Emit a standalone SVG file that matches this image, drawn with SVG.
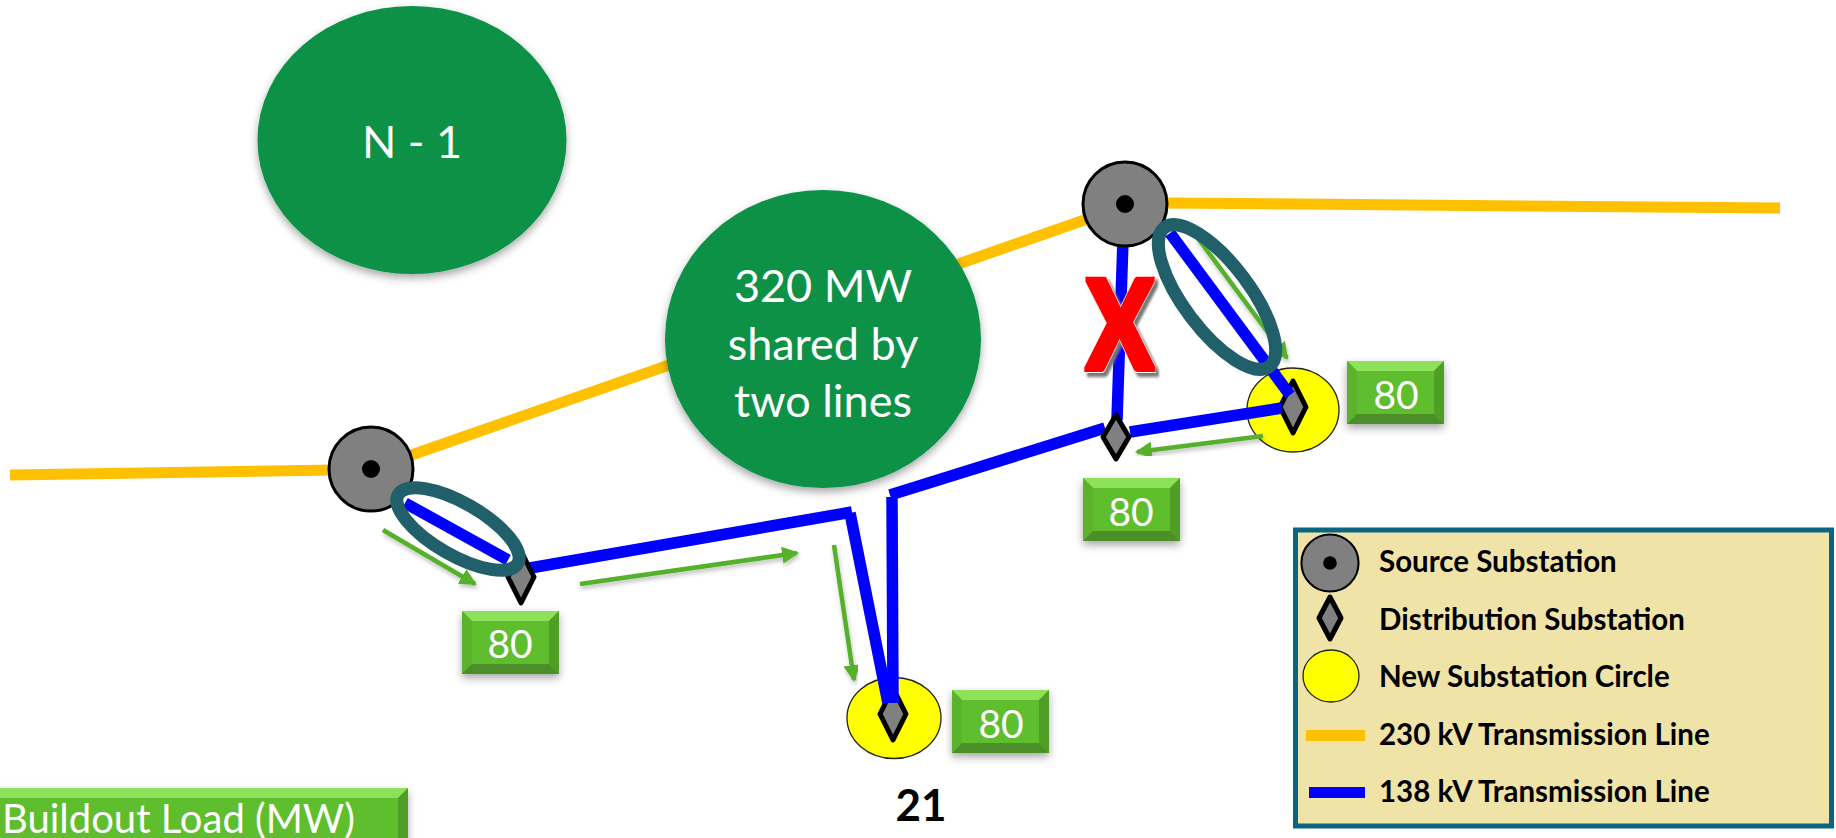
<svg xmlns="http://www.w3.org/2000/svg" xmlns:xlink="http://www.w3.org/1999/xlink" width="1836" height="838" viewBox="0 0 1836 838">
<style>
text{font-family:"Lato","Carlito","Liberation Sans",sans-serif}
.orange{stroke:#ffc000;stroke-width:11;fill:none}
.blue{stroke:#0000ff;stroke-width:11.500;fill:none}
.flow{stroke:#54b02a;stroke-width:4.500;fill:none;marker-end:url(#arrow);filter:url(#soft)}
.big{fill:#079147;filter:url(#shadow)}
.src{fill:#808080;stroke:#000;stroke-width:3}
.dia{fill:#808080;stroke:#000;stroke-width:5;stroke-linejoin:round}
.yel{fill:#ffff00;stroke:#222;stroke-width:1.300}
.ring{fill:none;stroke:#215f6a;stroke-width:13}
.w{fill:#fff;font-size:45px;text-anchor:middle}
.n{fill:#fff;font-size:39px;text-anchor:middle}
.leg{fill:#000;font-size:29.500px;font-weight:700}
</style>
<defs>
<filter id="shadow" x="-15%" y="-15%" width="130%" height="135%"><feDropShadow dx="0" dy="4" stdDeviation="4" flood-color="#000" flood-opacity="0.35"/></filter>
<filter id="soft" x="-20%" y="-20%" width="140%" height="140%"><feDropShadow dx="1" dy="3" stdDeviation="2" flood-color="#000" flood-opacity="0.25"/></filter>
<filter id="xfx" x="-20%" y="-20%" width="140%" height="140%">
<feMorphology in="SourceAlpha" operator="dilate" radius="3" result="outer"/>
<feFlood flood-color="#fff"/><feComposite in2="outer" operator="in" result="white"/>
<feOffset in="outer" dx="4" dy="4" result="off"/><feGaussianBlur in="off" stdDeviation="1.500" result="blur"/>
<feFlood flood-color="#777"/><feComposite in2="blur" operator="in" result="grey"/>
<feMorphology in="SourceGraphic" operator="dilate" radius="2" result="red"/>
<feMerge><feMergeNode in="grey"/><feMergeNode in="white"/><feMergeNode in="red"/></feMerge>
</filter>
<marker id="arrow" viewBox="0 0 16 16" refX="14" refY="8" markerUnits="userSpaceOnUse" markerWidth="17" markerHeight="17" orient="auto"><path d="M0 0L16 8L0 16Z" fill="#54b02a"/></marker>
<symbol id="box" width="97" height="63" overflow="visible">
<rect width="97" height="63" fill="#5fbe2d" filter="url(#shadow)"/>
<polygon points="0,0 97,0 87,10 10,10" fill="#8de25a"/>
<polygon points="0,0 10,10 10,53 0,63" fill="#5ab32b"/>
<polygon points="97,0 87,10 87,53 97,63" fill="#4f9f26"/>
<polygon points="0,63 10,53 87,53 97,63" fill="#4c8f28"/>
</symbol>
<g id="srcmark"><circle r="42" class="src"/><circle r="9" fill="#000"/></g>
</defs>
<rect width="1836" height="838" fill="#fff"/>
<g id="orange-lines">
<path class="orange" d="M10 475L335 470M400 459L1090 218M1165 203L1780 208"/>
</g>
<g id="n1"><ellipse class="big" cx="412" cy="140" rx="154.500" ry="134"/><text class="w" x="412" y="158">N - 1</text></g>
<g id="load-note"><ellipse class="big" cx="823" cy="339" rx="158" ry="149"/>
<text class="w" x="823" y="302">320 MW</text><text class="w" x="823" y="360">shared by</text><text class="w" x="823" y="417">two lines</text></g>
<g id="new-sub-east"><ellipse class="yel" cx="1293" cy="410" rx="46" ry="42"/><path class="dia" d="M1293 381L1306 407L1293 433L1280 407Z"/></g>
<g id="new-sub-south"><ellipse class="yel" cx="894" cy="718" rx="47" ry="40.500"/><path class="dia" d="M893 688L906 714L893 740L880 714Z"/></g>
<g id="connectors">
<path class="blue" d="M405 503L508 560"/>
<path class="blue" d="M530 568L852 512"/>
<path class="blue" d="M850 513L888 703"/>
<path class="blue" d="M892 497L893 703"/>
<path class="blue" d="M890 495L1105 428"/>
<path class="blue" d="M1123 240L1117 420"/>
<path class="blue" d="M1130 432L1282 408"/>
<path class="blue" d="M1170 233L1290 395"/>
<path class="flow" d="M383 530L475 584"/>
<path class="flow" d="M580 584L797 553"/>
<path class="flow" d="M834 545L854 680"/>
<path class="flow" d="M1263 436L1137 452"/>
<path class="flow" d="M1197 237L1287 358"/>
</g>
<g id="source-west"><use href="#srcmark" x="371" y="469"/></g>
<g id="source-east"><use href="#srcmark" x="1125" y="204"/></g>
<g id="dist-west"><path class="dia" d="M521 551L534 577L521 603L508 577Z"/></g>
<g id="dist-mid"><path class="dia" d="M1116 415L1129 437L1116 459L1103 437Z"/></g>
<g id="ring-west"><ellipse class="ring" cx="458" cy="529" rx="69" ry="26" transform="rotate(30 458 529)"/></g>
<g id="ring-east"><ellipse class="ring" cx="1217" cy="297" rx="87" ry="33" transform="rotate(53 1217 297)"/></g>
<g id="outage"><text transform="translate(1120 370) scale(0.8 1)" x="0" y="0" font-size="125" font-weight="900" text-anchor="middle" fill="#ff0000" filter="url(#xfx)">X</text></g>
<g id="load-west"><use href="#box" x="462" y="611"/><text class="n" x="510" y="658">80</text></g>
<g id="load-east"><use href="#box" x="1347" y="361"/><text class="n" x="1396" y="409">80</text></g>
<g id="load-mid"><use href="#box" x="1083" y="478"/><text class="n" x="1131" y="526">80</text></g>
<g id="load-south"><use href="#box" x="952" y="690"/><text class="n" x="1001" y="738">80</text></g>
<g id="buildout">
<rect x="-5" y="788" width="413" height="60" fill="#5fbe2d" filter="url(#shadow)"/>
<polygon points="-5,788 408,788 398,798 -5,798" fill="#8de25a"/>
<polygon points="408,788 398,798 398,838 408,838" fill="#4f9f26"/>
<text x="2" y="833" font-size="40" fill="#fff">Buildout Load (MW)</text>
</g>
<g id="page-number"><text x="921" y="821" font-size="44" font-weight="700" text-anchor="middle" fill="#000">21</text></g>
<g id="legend">
<rect x="1295.500" y="530" width="536" height="296" fill="#f0e3a8" stroke="#0b6482" stroke-width="5"/>
<g transform="translate(1330 563) scale(0.68)"><circle r="42" class="src"/><circle r="10" fill="#000"/></g>
<path class="dia" d="M1330 597L1341 618L1330 639L1319 618Z"/>
<ellipse class="yel" cx="1331" cy="676" rx="28" ry="26"/>
<rect x="1306" y="730" width="59" height="11" fill="#ffc000"/>
<rect x="1309" y="787" width="56" height="11" fill="#0000ff"/>
<text class="leg" x="1379" y="572">Source Substation</text>
<text class="leg" x="1379" y="630">Distribution Substation</text>
<text class="leg" x="1379" y="687">New Substation Circle</text>
<text class="leg" x="1379" y="745">230 kV Transmission Line</text>
<text class="leg" x="1379" y="802">138 kV Transmission Line</text>
</g>
</svg>
